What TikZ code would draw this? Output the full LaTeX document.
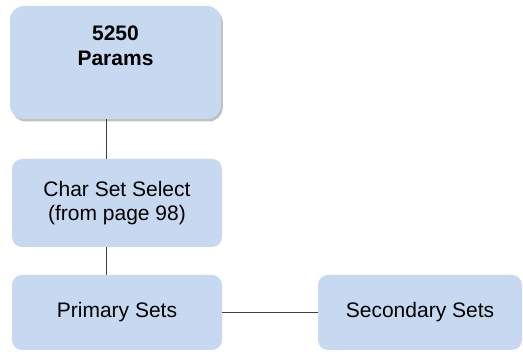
\documentclass[tikz,border=0pt]{standalone}
\usepackage{fontspec}
\setmainfont{Liberation Sans}
\usetikzlibrary{shadows}
\definecolor{boxfill}{HTML}{C6D9F1}
\definecolor{linecol}{HTML}{404040}
\tikzset{
  box/.style={draw=none, fill=boxfill, rounded corners=10pt, inner sep=0pt,
    font=\fontsize{21}{23.5}\selectfont, align=center},
  topbox/.style={box, rounded corners=14pt,
    drop shadow={shadow xshift=1.8pt, shadow yshift=-2.5pt, opacity=0.35, fill=black!70}},
  conn/.style={draw=linecol, line width=0.9pt},
}
\begin{document}
\begin{tikzpicture}[x=1pt,y=1pt]
\useasboundingbox (0,0) rectangle (523,352);
\node[topbox, minimum width=211pt, minimum height=113pt] (box1) at (115.5,289.5) {};
\node[font=\fontsize{21}{25}\selectfont\bfseries, align=center, inner sep=0pt] (t1) at (115.5,306) {5250\\Params};
\node[box, minimum width=210pt, minimum height=88pt] (box2) at (117,149) {Char Set Select\\(from page 98)};
\node[box, minimum width=210pt, minimum height=75pt] (box3) at (117,39.5) {Primary Sets};
\node[box, minimum width=204pt, minimum height=75pt] (box4) at (420,39.5) {Secondary Sets};
\coordinate (cx) at (106,0);
\draw[conn] (box1.south -| cx) -- (box2.north -| cx);
\draw[conn] (box2.south -| cx) -- (box3.north -| cx);
\draw[conn] (box3.east) -- (box4.west);
\end{tikzpicture}
\end{document}
